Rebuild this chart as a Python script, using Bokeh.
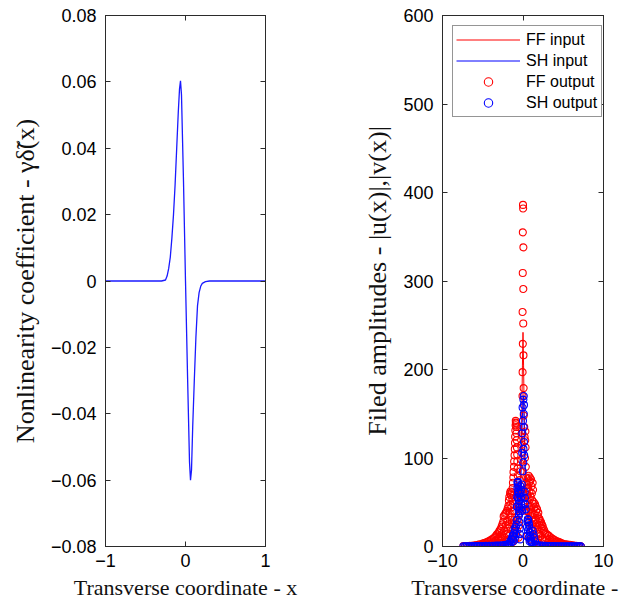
from bokeh.plotting import figure
from bokeh.layouts import row
from bokeh.models import (Range1d, FixedTicker, CustomJSTickFormatter, LinearAxis,
                          Legend, LegendItem)
from bokeh.embed import file_html
from bokeh.resources import INLINE

# ---------------- left panel: nonlinearity coefficient ----------------
delta_x = [-1.0, -0.30, -0.25, -0.23, -0.21, -0.19, -0.17, -0.15, -0.13, -0.11, -0.09,
           -0.075, -0.0625, -0.05, -0.025, 0.0, 0.025, 0.05, 0.0625, 0.075, 0.09, 0.11,
           0.13, 0.15, 0.17, 0.19, 0.21, 0.25, 0.30, 1.0]
delta_y = [0.0, 0.0, 0.0003, 0.0015, 0.0038, 0.0072, 0.0130, 0.0200, 0.0290, 0.0400, 0.0510,
           0.0578, 0.0603, 0.0560, 0.0300, 0.0, -0.0280, -0.0545, -0.0600, -0.0570, -0.0440,
           -0.0300, -0.0170, -0.0075, -0.0035, -0.0016, -0.0007, -0.0002, 0.0, 0.0]
left_yticks = [-0.08, -0.06, -0.04, -0.02, 0.0, 0.02, 0.04, 0.06, 0.08]
left_xticks = [-1, 0, 1]

# ---------------- right panel: field amplitudes ----------------
ff_in_x = [-7.5, -5.0, -3.0, -2.0, -1.5, -1.0, -0.7, -0.5, -0.35, -0.25, -0.15, -0.07, 0.0,
           0.07, 0.15, 0.25, 0.35, 0.5, 0.7, 1.0, 1.5, 2.0, 3.0, 5.0, 7.5]
ff_in_y = [0.0, 0.3, 1.8, 5.5, 10, 20, 34, 52, 74, 100, 150, 205, 242,
           205, 150, 100, 74, 52, 34, 20, 10, 5.5, 1.8, 0.3, 0.0]

sh_in_x = [-7.5, -5.0, -3.0, -2.0, -1.5, -1.0, -0.7, -0.45, -0.3, -0.2, -0.1, 0.0, 0.05,
           0.1, 0.2, 0.3, 0.45, 0.7, 1.0, 1.5, 2.0, 3.0, 5.0, 7.5]
sh_in_y = [0.0, 0.1, 0.4, 1.5, 4, 10, 20, 40, 62, 95, 140, 165, 170,
           160, 110, 70, 44, 22, 11, 4.5, 1.6, 0.4, 0.1, 0.0]

ff_out_x = [
    -7.4, -7.2, -7.0, -6.8, -6.6, -6.4, -6.2, -6.0, -5.8, -5.6, -5.4, -5.2, -5.0, -4.9, -4.8,
    -4.7, -4.6, -4.5, -4.4, -4.3, -4.2, -4.1,
    -4.0, -3.9, -3.8, -3.7, -3.6, -3.5, -3.45, -3.4, -3.3, -3.25, -3.2, -3.1, -3.0, -2.95,
    -2.9, -2.8, -2.75, -2.7, -2.65, -2.6, -2.55, -2.5,
    -2.45, -2.4, -2.35, -2.3, -2.25, -2.2, -2.15, -2.1, -2.05, -2.0, -1.95, -1.9, -1.85,
    -1.8, -1.78,
    -1.75, -1.7, -1.65, -1.6, -1.58, -1.55, -1.5, -1.48, -1.45, -1.4, -1.38, -1.35, -1.32, -1.3,
    -1.28, -1.25, -1.22, -1.2, -1.18, -1.15, -1.12, -1.1, -1.08, -1.05, -1.02, -1.0, -0.98,
    -0.95, -0.92, -0.9, -0.88, -0.85, -0.82, -0.8, -0.78, -0.75, -0.72, -0.7, -0.68, -0.65,
    -0.62, -0.6, -0.58, -0.55, -0.52, -0.5,
    -1.25, -1.15, -1.05, -0.95, -0.85, -0.75, -0.65, -0.55, -0.45, -0.4,
    -0.4, -0.35, -0.3, -0.25, -0.2, -0.15, -0.1,
    0.0, 0.02, -0.02, 0.05, -0.03, 0.04, -0.05, 0.03, -0.02, 0.06, -0.05, 0.08, -0.06, 0.1,
    0.15, 0.2, 0.25, 0.28, 0.3, 0.32, 0.35, 0.4, 0.45,
    0.5, 0.55, 0.6, 0.65, 0.7, 0.75, 0.8, 0.85, 0.9, 0.95, 1.0, 1.05, 1.1, 1.15, 1.2, 1.25, 1.3,
    0.45, 0.6, 0.75, 0.9, 1.05, 1.2, 0.55, 0.85, 1.15,
    1.35, 1.4, 1.45, 1.5, 1.55, 1.6, 1.65, 1.7, 1.75, 1.8, 1.85, 1.9, 1.95, 2.0,
    2.05, 2.1, 2.15, 2.2, 2.25, 2.3, 2.35, 2.4, 2.45, 2.5, 2.55, 2.6, 2.65, 2.7,
    2.8, 2.9, 3.0, 3.1, 3.2, 3.3, 3.4, 3.5, 3.6, 3.7, 3.8, 3.9, 4.0, 4.1, 4.2, 4.3, 4.4, 4.5,
    4.6, 4.7, 4.8, 4.9, 5.0, 5.2, 5.4, 5.6, 5.8, 6.0, 6.2, 6.4, 6.6, 6.8, 7.0, 7.2,
    -2.0, -1.9, -1.8, -1.7, -1.6, -1.5, -1.4, -1.3, 1.3, 1.4, 1.5, 1.6, 1.7, 1.8, 1.9, 2.0,
    0.5, 0.65, 0.8, 0.95, 1.1, 1.25, 0.7, 1.0, -2.6, -2.8, -3.0,
]
ff_out_y = [
    0.4, 0.2, 0.6, 0.3, 0.9, 0.5, 1.2, 0.7, 1.7, 1.0, 2.4, 1.4, 3.2, 1.8, 3.9,
    1.2, 4.6, 2.6, 5.4, 2.0, 6.2, 3.4,
    7.2, 2.8, 8.3, 4.6, 9.6, 3.5, 11.0, 6.4, 12.6, 2.1, 14.2, 8.0, 16.0, 4.4,
    18.0, 10.8, 20.0, 6.2, 22.5, 13.5, 25.0, 3.5,
    28, 34, 18, 35, 10, 37, 24, 38, 14, 40, 29, 43, 20,
    46, 8,
    52, 56, 38, 60, 47, 62, 33, 58, 44, 61, 27, 55, 40, 18,
    66, 72, 48, 78, 84, 58, 90, 96, 30, 103, 110, 117, 124,
    131, 137, 142, 140, 139, 135, 128, 120, 112, 104, 96, 88, 80,
    72, 64, 56, 46, 36, 24,
    12, 25, 40, 8, 52, 18, 30, 10, 60, 42,
    75, 58, 85, 64, 98, 115, 128,
    386, 382, 355, 338, 309, 291, 265, 252, 229, 216, 197, 179, 170, 148,
    135, 124, 100, 120, 130, 112, 90, 78, 66,
    58, 70, 77, 66, 80, 72, 62, 78, 74, 56, 76, 68, 60, 52, 72, 64, 48,
    40, 30, 45, 35, 20, 38, 12, 8, 25,
    50, 44, 36, 48, 30, 45, 40, 26, 42, 35, 20, 38, 32, 14,
    31, 24, 29, 12, 27, 21, 25, 8, 23, 17, 20, 6, 18, 14,
    15, 9, 13.5, 5, 12, 8, 10.5, 3.5, 9.2, 6, 8.0, 2.5, 7.0, 4.6, 6.0, 1.8, 5.2, 3.4,
    4.4, 1.4, 3.7, 2.5, 3.1, 2.2, 2.6, 1.6, 1.9, 1.2, 1.3, 0.8, 0.9, 0.5, 0.4, 0.2,
    6, 15, 25, 12, 22, 8, 30, 5, 28, 12, 20, 6, 15, 24, 8, 4,
    52, 40, 28, 46, 32, 18, 55, 42, 8, 4, 10,
]

sh_out_x = [
    -7.4, -7.2, -7.0, -6.8, -6.6, -6.4, -6.2, -6.0, -5.8, -5.6, -5.4, -5.2, -5.0, -4.8, -4.6,
    -4.4, -4.2, -4.0, -3.8, -3.6, -3.4, -3.2, -3.0, -2.8, -2.6, -2.4, -2.2, -2.0, -1.9, -1.8,
    -1.7, -1.6, -1.5, -1.4, -1.3,
    -1.25, -1.2, -1.15, -1.1, -1.05, -1.0, -0.95, -0.9, -0.85, -0.8,
    -0.78, -0.75, -0.72, -0.7, -0.68, -0.66, -0.64, -0.62, -0.6, -0.58, -0.56, -0.54, -0.52,
    -0.5, -0.48, -0.46, -0.44, -0.42, -0.4, -0.38, -0.36,
    -0.33, -0.3, -0.27, -0.25, -0.22, -0.2, -0.18, -0.15, -0.12,
    -0.1, -0.08, -0.05, -0.03, 0.0, 0.03, 0.05, 0.08, 0.1, 0.12, 0.15, 0.12, 0.1, 0.06,
    0.2, 0.25, 0.3, 0.35,
    0.45, 0.5, 0.55, 0.6, 0.62, 0.65, 0.7, 0.72, 0.75, 0.8, 0.82, 0.85, 0.9, 0.95, 1.0, 1.05, 1.1,
    1.2, 1.3, 1.4, 1.5, 1.6, 1.7, 1.8, 2.0, 2.2, 2.4, 2.6, 2.8, 3.0, 3.2, 3.4, 3.6, 3.8, 4.0,
    4.2, 4.4, 4.6, 4.8, 5.0, 5.2, 5.4, 5.6, 5.8, 6.0, 6.2, 6.4, 6.6, 6.8, 7.0, 7.2,
]
sh_out_y = [
    0.2, 0.1, 0.3, 0.1, 0.3, 0.2, 0.4, 0.2, 0.4, 0.3, 0.5, 0.3, 0.6, 0.4, 0.7,
    0.4, 0.8, 0.5, 0.9, 0.6, 1.0, 0.7, 1.2, 0.8, 1.4, 1.0, 1.8, 1.2, 2.3, 1.5,
    3.0, 6.0, 4.0, 9.0, 12.0,
    8, 12, 6, 15, 20, 10, 18, 22, 14, 25,
    30, 45, 56, 66, 72, 73, 70, 62, 55, 68, 48, 40, 60,
    35, 52, 28, 44, 20, 38, 14, 8,
    68, 60, 54, 64, 48, 56, 44, 70, 40,
    106, 128, 157, 85, 142, 95, 166, 135, 170, 160, 103, 118, 150, 110,
    62, 55, 48, 42,
    12, 22, 28, 31, 18, 30, 27, 10, 24, 20, 6, 16, 12, 9, 7, 5, 4,
    18, 14, 10, 6, 2.0, 1.6, 1.5, 1.2, 1.0, 0.9, 0.8, 0.7, 0.6, 0.6, 0.5, 0.5, 0.4, 0.4,
    0.3, 0.3, 0.3, 0.2, 0.2, 0.2, 0.2, 0.1, 0.1, 0.1, 0.1, 0.1, 0.1, 0.1, 0.1, 0.1,
]
right_yticks = [0, 100, 200, 300, 400, 500, 600]
right_xticks = [-10, 0, 10]

legend_labels = ["FF input", "SH input", "FF output", "SH output"]

TICK_FONT = "Liberation Sans"
LABEL_FONT = "Liberation Serif"
FRAME = "#2b2b2b"

fmt_signed = CustomJSTickFormatter(code="""
    if (Math.abs(tick) < 1e-9) { return "0"; }
    const d = (Math.abs(tick) < 1) ? 2 : 0;
    return (tick < 0 ? "\u2212" : "") + Math.abs(tick).toFixed(d);
""")


def style_axis(ax, ticks, show_labels=True):
    ax.ticker = FixedTicker(ticks=ticks)
    ax.major_tick_in = 5
    ax.major_tick_out = 0
    ax.minor_tick_in = 0
    ax.minor_tick_out = 0
    ax.major_tick_line_color = FRAME
    ax.axis_line_color = FRAME
    ax.axis_line_width = 1
    if show_labels:
        ax.formatter = fmt_signed
        ax.major_label_text_font = TICK_FONT
        ax.major_label_text_font_size = "18px"
        ax.major_label_text_color = "black"
        ax.axis_label_text_font = LABEL_FONT
        ax.axis_label_text_font_style = "normal"
        ax.axis_label_text_font_size = "22px"
        ax.axis_label_text_color = "#111111"
    else:
        ax.major_label_text_font_size = "1px"
        ax.major_label_text_color = None
        ax.major_label_standoff = 0
        ax.axis_label = None


def make_fig(width, xr, yr, bl, br, bt, bb):
    p = figure(width=width, height=602, x_range=xr, y_range=yr,
               output_backend="svg", toolbar_location=None,
               min_border_left=bl, min_border_right=br,
               min_border_top=bt, min_border_bottom=bb)
    p.grid.visible = False
    p.outline_line_color = FRAME
    p.outline_line_width = 1
    p.background_fill_color = "white"
    p.border_fill_color = "white"
    return p


# ---------- left ----------
p1 = make_fig(311, Range1d(-1, 1), Range1d(-0.08, 0.08), 105, 46, 14, 53)
p1.line(delta_x, delta_y, line_color="#1a1aff", line_width=1.3)
style_axis(p1.yaxis[0], left_yticks)
style_axis(p1.xaxis[0], left_xticks)
p1.yaxis[0].axis_label = "Nonlinearity coefficient - γδ̃(x)"
p1.xaxis[0].axis_label = "Transverse coordinate - x"
p1.yaxis[0].axis_label_text_font_size = "26px"
p1.yaxis[0].major_label_standoff = 9
p1.xaxis[0].major_label_standoff = 7
p1.yaxis[0].axis_label_standoff = 8
p1.xaxis[0].axis_label_standoff = 5
ax_r = LinearAxis()
style_axis(ax_r, left_yticks, show_labels=False)
p1.add_layout(ax_r, "right")
ax_t = LinearAxis()
style_axis(ax_t, left_xticks, show_labels=False)
p1.add_layout(ax_t, "above")

# ---------- right ----------
p2 = make_fig(311, Range1d(-10, 10), Range1d(0, 600), 131, 19, 15, 54)
r_ffin = p2.line(ff_in_x, ff_in_y, line_color="red", line_width=1)
r_shin = p2.line(sh_in_x, sh_in_y, line_color="blue", line_width=1)
r_ffout = p2.scatter(ff_out_x, ff_out_y, marker="circle", size=7, fill_color=None,
                     line_color="red", line_width=1.1)
r_shout = p2.scatter(sh_out_x, sh_out_y, marker="circle", size=7, fill_color=None,
                     line_color="blue", line_width=1.1)
style_axis(p2.yaxis[0], right_yticks)
style_axis(p2.xaxis[0], right_xticks)
p2.yaxis[0].axis_label = "Filed amplitudes - |u(x)|,|v(x)|"
p2.xaxis[0].axis_label = "Transverse coordinate - x"
p2.yaxis[0].axis_label_text_font_size = "26px"
p2.yaxis[0].major_label_standoff = 9
p2.xaxis[0].major_label_standoff = 7
p2.yaxis[0].axis_label_standoff = 8
p2.xaxis[0].axis_label_standoff = 5
ax_r2 = LinearAxis()
style_axis(ax_r2, right_yticks, show_labels=False)
p2.add_layout(ax_r2, "right")
ax_t2 = LinearAxis()
style_axis(ax_t2, right_xticks, show_labels=False)
p2.add_layout(ax_t2, "above")

legend = Legend(items=[LegendItem(label=legend_labels[0], renderers=[r_ffin]),
                       LegendItem(label=legend_labels[1], renderers=[r_shin]),
                       LegendItem(label=legend_labels[2], renderers=[r_ffout]),
                       LegendItem(label=legend_labels[3], renderers=[r_shout])],
                location="top_left")
legend.margin = 10
legend.padding = 3
legend.spacing = 0
legend.label_height = 21
legend.glyph_height = 21
legend.glyph_width = 64
legend.label_standoff = 6
legend.label_width = 72
legend.label_text_font = TICK_FONT
legend.label_text_font_size = "16px"
legend.label_text_color = "black"
legend.border_line_color = FRAME
legend.border_line_width = 1
legend.background_fill_color = "white"
legend.background_fill_alpha = 1.0
p2.add_layout(legend, "center")

layout = row(p1, p2)
open("out.html", "w").write(file_html(layout, INLINE))
